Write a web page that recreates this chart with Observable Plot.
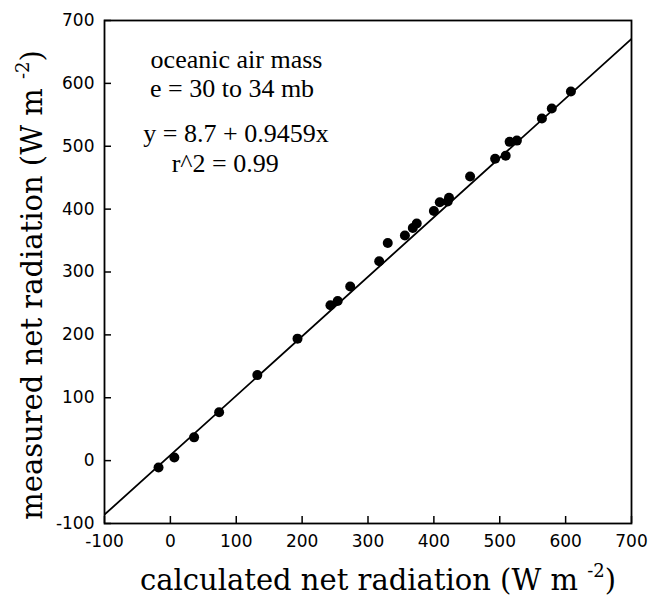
<!DOCTYPE html>
<html>
<head>
<meta charset="utf-8">
<script src="https://cdn.jsdelivr.net/npm/d3@7"></script>
<script src="https://cdn.jsdelivr.net/npm/@observablehq/plot@0.6"></script>
<style>
  html, body { margin: 0; padding: 0; background: #fff; }
  #chart svg { display: block; }
</style>
</head>
<body>
<div id="chart"></div>
<script>
// calculated net radiation (W m-2)
const calculated = [-18, 6, 36, 74, 132, 193, 243, 254, 273, 317, 330, 356, 368, 374, 400, 409, 421, 423, 455, 493, 509, 515, 526, 564, 579, 608];
// measured net radiation (W m-2)
const measured   = [-11, 5, 37, 77, 136, 194, 247, 254, 277, 317, 346, 358, 370, 377, 397, 411, 412, 418, 452, 480, 485, 507, 509, 544, 560, 587];
// regression line endpoints (y = 8.7 + 0.9459x)
const fitX = [-100, 700];
const fitY = [-85.9, 670.8];
const xTicks = [-100, 0, 100, 200, 300, 400, 500, 600, 700];
const yTicks = [-100, 0, 100, 200, 300, 400, 500, 600, 700];
const annotations = ["oceanic air mass", "e = 30 to 34 mb", "y = 8.7 + 0.9459x", "r^2 = 0.99"];

const points = calculated.map((c, i) => ({x: c, y: measured[i]}));
const fit = fitX.map((x, i) => ({x, y: fitY[i]}));

const serif = "'Liberation Serif', 'Times New Roman', serif";
const tickFont = "'DejaVu Sans', sans-serif";

const chart = Plot.plot({
  width: 651,
  height: 600,
  marginLeft: 104,
  marginRight: 20,
  marginTop: 20,
  marginBottom: 77,
  style: {fontFamily: tickFont, fontSize: "17px", color: "black", background: "white"},
  x: {domain: [-100, 700]},
  y: {domain: [-100, 700]},
  marks: [
    Plot.frame({stroke: "black", strokeWidth: 1.8}),
    Plot.axisX(xTicks, {tickSize: -7, tickPadding: 18, tickFormat: d => String(d), label: null, strokeWidth: 1.5}),
    Plot.axisY(yTicks, {tickSize: -7, tickPadding: 17, tickFormat: d => String(d), label: null, strokeWidth: 1.5}),
    Plot.line(fit, {x: "x", y: "y", stroke: "black", strokeWidth: 1.8, clip: true}),
    Plot.dot(points, {x: "x", y: "y", r: 5, fill: "black", stroke: "none"}),
    Plot.text([annotations[0]], {x: -30, y: 625, text: d => d, textAnchor: "start", lineAnchor: "bottom", fontFamily: serif, fontSize: 26}),
    Plot.text([annotations[1]], {x: -31, y: 578.5, text: d => d, textAnchor: "start", lineAnchor: "bottom", fontFamily: serif, fontSize: 26}),
    Plot.text([annotations[2]], {x: -41, y: 506, text: d => d, textAnchor: "start", lineAnchor: "bottom", fontFamily: serif, fontSize: 26}),
    Plot.text([annotations[3]], {x: 2, y: 459.5, text: d => d, textAnchor: "start", lineAnchor: "bottom", fontFamily: serif, fontSize: 26})
  ]
});

// Axis titles with superscript exponent
const svg = d3.select(chart);
const titleFont = "'DejaVu Serif', serif";
const xt = svg.append("text")
  .attr("x", 378).attr("y", 590)
  .attr("text-anchor", "middle")
  .attr("font-family", titleFont).attr("font-size", 29).attr("fill", "black");
xt.append("tspan").text("calculated net radiation (W m ");
xt.append("tspan").attr("dy", -13).attr("font-size", 18).text("-2");
xt.append("tspan").attr("dy", 13).text(")");

const yt = svg.append("text")
  .attr("transform", "translate(42,285) rotate(-90)")
  .attr("text-anchor", "middle")
  .attr("font-family", titleFont).attr("font-size", 29).attr("fill", "black");
yt.append("tspan").text("measured net radiation (W m ");
yt.append("tspan").attr("dy", -13).attr("font-size", 18).text("-2");
yt.append("tspan").attr("dy", 13).text(")");

document.getElementById("chart").appendChild(chart);
</script>
</body>
</html>
